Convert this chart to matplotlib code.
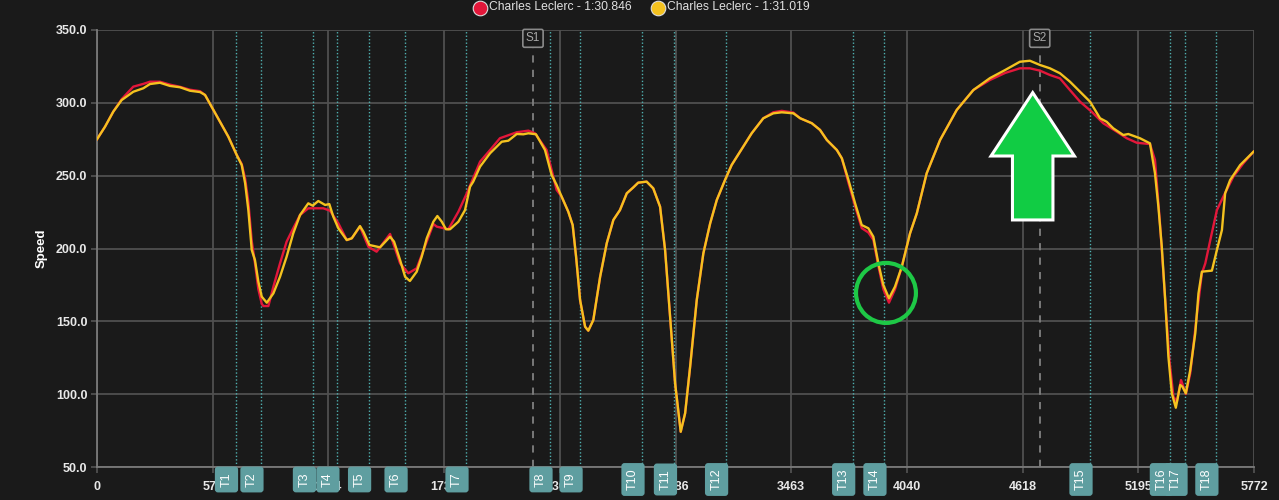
import matplotlib
matplotlib.use('Agg')
import matplotlib.pyplot as plt
from matplotlib.lines import Line2D
from matplotlib.patches import Polygon, Ellipse

plt.rcParams['font.family'] = ['Liberation Sans', 'DejaVu Sans']

# lap 1 (red) - distance / speed
red_dist = [0, 40, 81, 123, 181, 231, 264, 314, 364, 414, 464, 514, 539, 572, 614, 655,
            697, 722, 739, 755, 772, 788, 805, 822, 830, 855, 880, 913, 946, 979, 1013,
            1054, 1129, 1162, 1204, 1246, 1271, 1312, 1354, 1395, 1462, 1512, 1553, 1595,
            1620, 1678, 1695, 1753, 1803, 1845, 1911, 1961, 2010, 2094, 2152, 2185, 2243,
            2293, 2318, 2351, 2373, 2390, 2410, 2435, 2451, 2476, 2510, 2543, 2576, 2609,
            2643, 2676, 2700, 2742, 2775, 2809, 2834, 2859, 2884, 2912, 2934, 2959, 2992,
            3025, 3059, 3092, 3133, 3166, 3208, 3266, 3324, 3374, 3416, 3474, 3508, 3566,
            3607, 3641, 3691, 3716, 3749, 3782, 3815, 3848, 3873, 3898, 3923, 3951, 3981,
            4015, 4056, 4090, 4139, 4206, 4289, 4372, 4455, 4530, 4604, 4654, 4704, 4754,
            4804, 4846, 4904, 4962, 5020, 5087, 5137, 5187, 5253, 5278, 5303, 5329, 5350,
            5370, 5387, 5408, 5432, 5454, 5488, 5512, 5529, 5554, 5587, 5619, 5669, 5719,
            5770]
red_speed = [275, 283.6, 293.9, 302.5, 311.1, 313, 314.5, 314.5, 312.5, 311, 309, 308, 305.4,
             297.3, 287, 276.8, 264.2, 258, 248, 232, 205, 190, 172, 162, 160.5, 160.5,
             173.8, 189.8, 204.7, 213.9, 223, 227.6, 227.6, 226, 217.3, 205.8, 207, 215,
             201.2, 197.8, 210, 189.8, 183, 186.4, 195.5, 216.8, 215, 213.2, 225.3, 237.9,
             259.6, 267.6, 275.7, 279.8, 280.9, 279.1, 267.6, 240.2, 235.6, 225.3, 216.1,
             194.4, 164.6, 146.3, 143.6, 150.9, 180.6, 203.6, 219.6, 226.4, 237.9, 242,
             245.2, 245.9, 241.3, 228.7, 199, 153.2, 107.5, 74.2, 86.9, 118.9, 164.6, 196.7,
             217.3, 233.3, 247, 257.3, 266.5, 279.1, 289.4, 293.5, 294.5, 293.3, 289.4, 286,
             281.4, 274.5, 267.6, 261.9, 245, 229, 214, 211, 206, 188, 172, 162.8, 172,
             187.5, 210.4, 224.2, 251.6, 274.5, 295.1, 308.8, 315.7, 320.5, 323.7, 323.7,
             322.1, 319.1, 316.8, 310, 300.8, 293.9, 286, 280.2, 275.7, 272.6, 271.7, 260.8,
             217.3, 164.6, 123.5, 98.3, 94.8, 109.7, 100.1, 114.3, 155.5, 183, 189.8, 205.8,
             226.4, 235.6, 249.3, 258.5, 266.5]

# lap 2 (yellow)
yel_dist = [0, 40, 81, 123, 181, 231, 264, 314, 364, 414, 464, 514, 539, 572, 614, 655,
            697, 722, 739, 755, 772, 788, 805, 822, 847, 880, 913, 946, 979, 1013, 1054,
            1076, 1104, 1138, 1159, 1179, 1204, 1246, 1271, 1312, 1329, 1359, 1412, 1462,
            1482, 1512, 1537, 1561, 1595, 1620, 1645, 1678, 1698, 1720, 1741, 1761, 1803,
            1836, 1861, 1877, 1911, 1961, 2019, 2052, 2094, 2127, 2152, 2190, 2235, 2268,
            2293, 2318, 2351, 2373, 2390, 2410, 2435, 2451, 2476, 2510, 2543, 2576, 2609,
            2643, 2676, 2700, 2742, 2775, 2809, 2834, 2859, 2884, 2912, 2934, 2959, 2992,
            3025, 3059, 3092, 3133, 3166, 3208, 3266, 3324, 3374, 3416, 3474, 3508, 3566,
            3607, 3641, 3691, 3716, 3749, 3782, 3815, 3848, 3873, 3898, 3923, 3951, 3981,
            4015, 4056, 4090, 4139, 4206, 4289, 4372, 4455, 4530, 4604, 4654, 4704, 4754,
            4804, 4854, 4904, 4954, 5004, 5037, 5070, 5120, 5145, 5203, 5253, 5278, 5295,
            5312, 5329, 5345, 5362, 5382, 5404, 5415, 5432, 5454, 5479, 5495, 5512, 5562,
            5587, 5612, 5628, 5653, 5703, 5770]
yel_speed = [275, 283.6, 293.9, 301.9, 307.6, 310, 312.9, 313.8, 311.6, 310.7, 308.3, 307.4,
             305.4, 297.3, 287, 276.8, 264.2, 257.3, 244.8, 226.4, 199, 192.1, 177.2, 166.9,
             162.8, 169.2, 180.6, 194.4, 210.4, 223, 231, 229.4, 232.6, 229.9, 230.5, 221.8,
             213.9, 205.8, 207, 215.4, 211.5, 202.4, 200.8, 208.1, 204.7, 192.1, 180.6, 177.7,
             184.1, 194.4, 207, 218.4, 222.3, 218.4, 213.2, 213.2, 218.4, 226.4, 242.4, 245.9,
             256.2, 265.4, 273.3, 274, 278.6, 278.4, 279.1, 278.4, 267.6, 250.5, 243.6, 235.6,
             225.3, 216.1, 194.4, 164.6, 146.3, 143.6, 150.9, 180.6, 203.6, 219.6, 226.4,
             237.9, 242, 245.2, 245.9, 241.3, 228.7, 199, 153.2, 107.5, 74.2, 86.9, 118.9,
             164.6, 196.7, 217.3, 233.3, 247, 257.3, 266.5, 279.1, 289.4, 292.8, 293.5, 292.8,
             289.4, 286, 281.4, 274.5, 267.6, 261.9, 247, 231, 216.1, 213.9, 208.1, 189.8,
             174.9, 165.8, 173.8, 187.5, 210.4, 224.2, 251.6, 274.5, 295.1, 308.8, 317, 322.5,
             328.2, 328.9, 326, 323.7, 320.3, 314.5, 307.6, 300.8, 289.4, 287, 282.5, 277.9,
             278.6, 275.7, 272.2, 251.6, 228.7, 201.2, 164.6, 125.7, 100.6, 90.7, 106.3, 105.1,
             100.6, 116.6, 141.8, 169.2, 184.1, 184.8, 199, 212.7, 237.9, 247, 257.3, 266.5]

x_ticks = [0, 577, 1154, 1731, 2309, 2886, 3463, 4040, 4618, 5195, 5772]
y_ticks = [50, 100, 150, 200, 250, 300, 350]

turn_names = ['T1', 'T2', 'T3', 'T4', 'T5', 'T6', 'T7', 'T8', 'T9', 'T10', 'T11', 'T12',
              'T13', 'T14', 'T15', 'T16', 'T17', 'T18']
turn_dist = [691, 818, 1080, 1197, 1355, 1537, 1841, 2260, 2410, 2719, 2881, 3136, 3770,
             3926, 4954, 5355, 5428, 5582]
sector_names = ['S1', 'S2']
sector_dist = [2175, 4703]

labels = ['Charles Leclerc - 1:30.846', 'Charles Leclerc - 1:31.019']
colors = ['#e3173a', '#f4c21f']

bg = '#1a1a1a'
grid_c = '#505050'

fig = plt.figure(figsize=(12.79, 5.0), dpi=100, facecolor=bg)
ax = fig.add_axes([97 / 1279, 1 - 467 / 500, (1254 - 97) / 1279, (467 - 30) / 500])
ax.set_facecolor(bg)

ax.set_xlim(0, 5772)
ax.set_ylim(50, 350)
ax.set_xticks(x_ticks)
ax.set_yticks(y_ticks)
ax.set_xticklabels([str(t) for t in x_ticks])
ax.set_yticklabels(['%.1f' % t for t in y_ticks])
ax.grid(True, color=grid_c, lw=1.3)
ax.set_axisbelow(True)
ax.tick_params(colors=grid_c, length=4, width=1.3, labelcolor='#e8e8e8', labelsize=9)
ax.tick_params(axis='x', pad=6)
ax.tick_params(axis='y', pad=3)
for lab in ax.get_xticklabels() + ax.get_yticklabels():
    lab.set_fontweight('bold')
for s in ['top', 'right']:
    ax.spines[s].set_visible(False)
for s in ['left', 'bottom']:
    ax.spines[s].set_color('#7a7a7a')
    ax.spines[s].set_linewidth(1.3)

ax.set_ylabel('Speed', color='white', fontsize=9.5, fontweight='bold', labelpad=6)

# turns
for name, d in zip(turn_names, turn_dist):
    ax.axvline(d, color='#4fb0b0', lw=1, ls=(0, (1, 1.5)), zorder=1)
    ax.annotate(name, xy=(d, 0), xycoords=('data', 'axes fraction'),
                xytext=(-6.5, -9), textcoords='offset points',
                rotation=90, ha='center', va='center', color='white', fontsize=9,
                bbox=dict(boxstyle='round,pad=0.45,rounding_size=0.25', fc='#5f9ea0', ec='none'),
                annotation_clip=False, zorder=6)

# sectors
for name, d in zip(sector_names, sector_dist):
    ax.axvline(d, color='#808080', lw=1.3, ls=(0, (4, 4)), zorder=1)
    ax.annotate(name, xy=(d, 1), xycoords=('data', 'axes fraction'),
                xytext=(0, -6), textcoords='offset points',
                ha='center', va='center', color='#a8a8a8', fontsize=8.5,
                bbox=dict(boxstyle='round,pad=0.25,rounding_size=0.15', fc=bg, ec='#8a8a8a', lw=1.2),
                annotation_clip=False, zorder=6)

ax.plot(red_dist, red_speed, color=colors[0], lw=1.7, zorder=3)
ax.plot(yel_dist, yel_speed, color=colors[1], lw=1.7, zorder=4)

# highlight circle and arrow
ax.add_patch(Ellipse((3936, 169.5), 299, 41.2, fill=False, ec='#1ec846', lw=3, zorder=7))
arrow = [(4668, 307), (4876, 263.5), (4769, 263.5), (4769, 219.6),
         (4567, 219.6), (4567, 263.5), (4460, 263.5)]
ax.add_patch(Polygon(arrow, closed=True, fc='#11cc44', ec='white', lw=2.2, zorder=7))

# legend
leg_x = [480 / 1279, 658 / 1279]
for lx, lab, c in zip(leg_x, labels, colors):
    fig.add_artist(Line2D([lx], [1 - 7.5 / 500], marker='o', ms=10.5, mfc=c, mec='#dddddd',
                          mew=0.8, ls='none', transform=fig.transFigure))
    fig.text(lx + 9 / 1279, 1 - 7.5 / 500, lab, color='#e0e0e0', fontsize=8.7,
             va='center', ha='left')

fig.savefig('out.png', dpi=100, facecolor=bg)
